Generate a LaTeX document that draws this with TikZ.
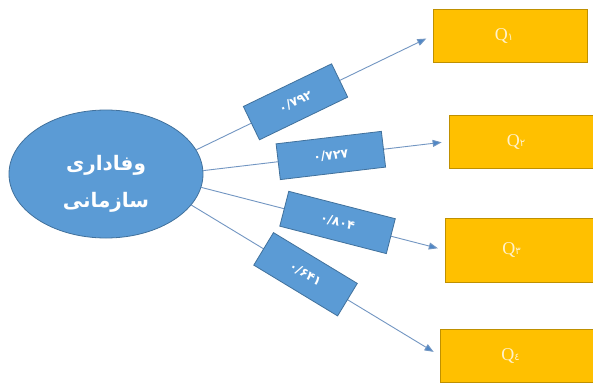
\documentclass[tikz,border=0pt]{standalone}
\usepackage{fontspec}
\usetikzlibrary{arrows.meta,shapes.geometric}
\TeXXeTstate=1
\newfontfamily\arabicfont[Script=Arabic]{DejaVu Sans}
\newfontfamily\qfont{Liberation Serif}
\definecolor{ellfill}{HTML}{5B9BD5}
\definecolor{elldraw}{HTML}{41719C}
\definecolor{linec}{HTML}{7296C2}
\definecolor{tipc}{HTML}{4F87C6}
\definecolor{boxfill}{HTML}{FFC000}
\definecolor{boxdraw}{HTML}{BF9000}
\definecolor{qtext}{HTML}{FFF2CC}
\newcommand{\qlab}[1]{{\qfont\fontsize{18}{18}\selectfont Q}{\arabicfont\fontsize{10}{10}\selectfont #1}}
\tikzset{
  ell/.style={ellipse, fill=ellfill, draw=elldraw, line width=0.8pt, minimum width=194pt, minimum height=128pt, inner sep=0pt},
  elltext/.style={text=white, align=center, inner sep=0pt, font=\arabicfont\bfseries\fontsize{20}{37}\selectfont},
  lab/.style={rectangle, fill=ellfill, draw=elldraw, line width=0.8pt, inner sep=0pt, text=white, font=\arabicfont\bfseries\fontsize{12.5}{13}\selectfont},
  qbox/.style={rectangle, fill=boxfill, draw=boxdraw, line width=0.8pt, minimum width=154pt, inner sep=0pt, text=qtext},
  conn/.style={draw=linec, line width=0.9pt, -{Triangle[length=9pt,width=7pt,fill=tipc]}, shorten >=7pt}
}
\begin{document}
\begin{tikzpicture}[x=1pt,y=-1pt]
\useasboundingbox (0,0) rectangle (593,383);
\fill[white] (0,0) rectangle (593,383);
\node[ell] (e) at (106,174) {};
\node[elltext] (et) at (106,184) {\beginR وفاداری\endR\\\beginR سازمانی\endR};
\node[qbox, minimum height=53pt] (b1) at (510,35.5) {\qlab{۱}\hspace*{12pt}};
\node[qbox, minimum height=53pt] (b2) at (526,141.5) {\qlab{۲}\hspace*{20pt}};
\node[qbox, minimum height=64pt] (b3) at (522,250) {\qlab{۳}\hspace*{21pt}};
\node[qbox, minimum height=53pt] (b4) at (517,355.5) {\qlab{٤}\hspace*{13pt}};
\draw[conn] (e.15) -- node[lab, sloped, pos=0.42, minimum width=98pt, minimum height=37pt] (l1) {۰/۷۹۲} (b1.west);
\draw[conn] (e.2) -- node[lab, sloped, pos=0.52, minimum width=106pt, minimum height=36pt] (l2) {۰/۷۲۷} (b2.west);
\draw[conn] (e.-8) -- node[lab, sloped, pos=0.56, minimum width=110pt, minimum height=36pt] (l3) {۰/۸۰۴} (b3.west);
\draw[conn] (e.-20) -- node[lab, sloped, pos=0.46, minimum width=98pt, minimum height=38pt] (l4) {۰/۶۴۱} (b4.west);
\end{tikzpicture}
\end{document}
